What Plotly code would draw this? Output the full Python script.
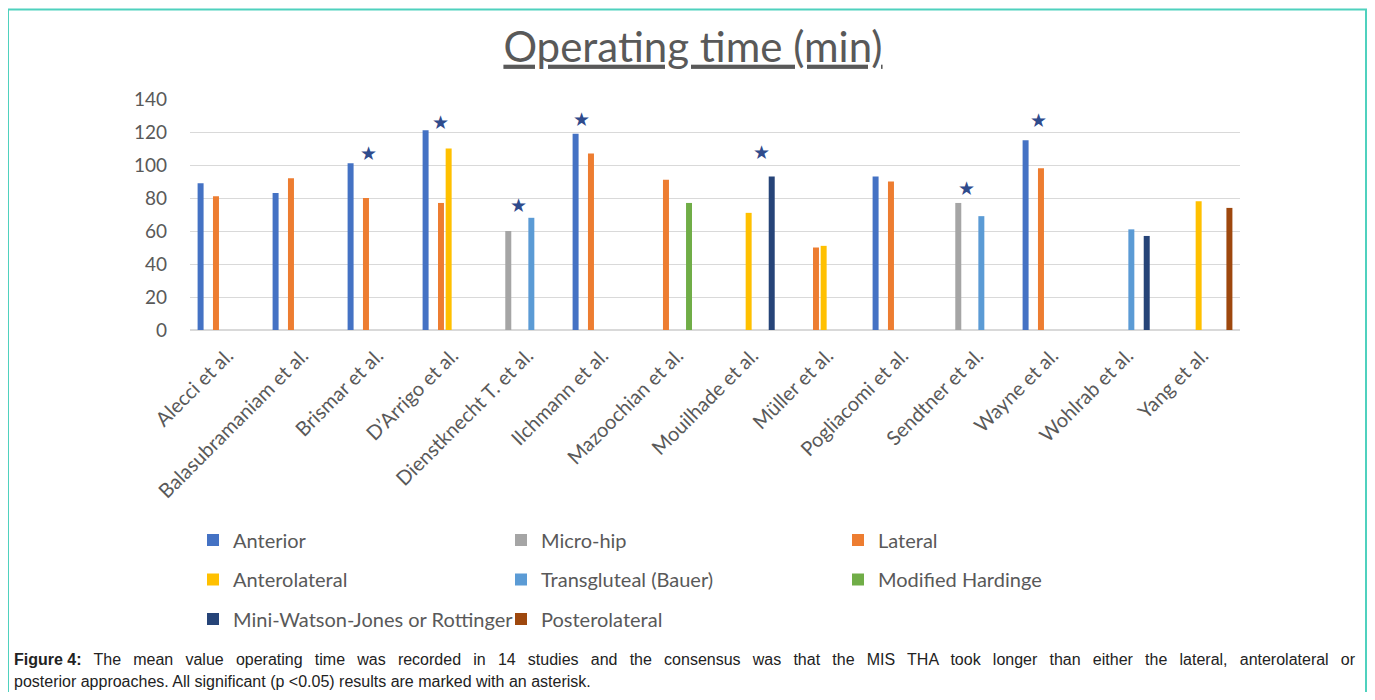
import plotly.graph_objects as go

studies = ["Alecci et al.", "Balasubramaniam et al.", "Brismar et al.", "D\u2019Arrigo et al.",
           "Dienstknecht T. et al.", "Ilchmann et al.", "Mazoochian et al.", "Mouilhade et al.",
           "M\u00fcller et al.", "Pogliacomi et al.", "Sendtner et al.", "Wayne et al.",
           "Wohlrab et al.", "Yang et al."]

anterior = [89, 83, 101, 121, None, 119, None, None, None, 93, None, 115, None, None]
micro_hip = [None, None, None, None, 60, None, None, None, None, None, 77, None, None, None]
lateral = [81, 92, 80, 77, None, 107, 91, None, 50, 90, None, 98, None, None]
anterolateral = [None, None, None, 110, None, None, None, 71, 51, None, None, None, None, 78]
transgluteal = [None, None, None, None, 68, None, None, None, None, None, 69, None, 61, None]
mod_hardinge = [None, None, None, None, None, None, 77, None, None, None, None, None, None, None]
mini_watson = [None, None, None, None, None, None, None, 93, None, None, None, None, 57, None]
posterolateral = [None, None, None, None, None, None, None, None, None, None, None, None, None, 74]

series_names = ["Anterior", "Micro-hip", "Lateral", "Anterolateral", "Transgluteal (Bauer)",
                "Modified Hardinge", "Mini-Watson-Jones or Rottinger", "Posterolateral"]
series_values = [anterior, micro_hip, lateral, anterolateral, transgluteal, mod_hardinge,
                 mini_watson, posterolateral]
colors = ["#4472C4", "#A5A5A5", "#ED7D31", "#FFC000", "#5B9BD5", "#70AD47", "#264478", "#9E480E"]

star_studies = ["Brismar et al.", "D\u2019Arrigo et al.", "Dienstknecht T. et al.", "Ilchmann et al.",
                "Mouilhade et al.", "Sendtner et al.", "Wayne et al."]
star_levels = [107, 126, 76, 128, 108, 86, 127]
star_shift = [-9, -12, -9, -21, 9, -11, -14]

# page body has an 8px margin: work in page coordinates and convert
OFF = 8
W, H = 1375 - 2 * OFF, 700 - 2 * OFF
PL, PT, PW, PH = 190, 99, 1050, 231          # plot area in page pixels
L, T = PL - OFF, PT - OFF
R, B = W - L - PW, H - T - PH

def px(x):
    return (x - PL) / PW

def py(y):
    return (PT + PH - y) / PH

FONT = "Lato, 'Open Sans', sans-serif"
GREY = "#595959"

fig = go.Figure()
legend_text_x = [235, 543, 880]
legend_rows = [540, 579.5, 619]
layout_legends = {}
for i, (name, vals, col) in enumerate(zip(series_names, series_values, colors)):
    lname = "legend" if i == 0 else f"legend{i+1}"
    fig.add_trace(go.Bar(x=studies, y=vals, name=name, marker_color=col,
                         marker_line_width=0, legend=lname, showlegend=True))
    tx = legend_text_x[i % 3]
    cy = legend_rows[i // 3]
    layout_legends[lname] = dict(x=px(tx - 42), y=py(cy), xanchor="left", yanchor="middle",
                                 xref="paper", yref="paper", orientation="v", visible=True,
                                 font=dict(family=FONT, size=20, color=GREY),
                                 bgcolor="rgba(0,0,0,0)", borderwidth=0)

annotations = []
for s, lv, sh in zip(star_studies, star_levels, star_shift):
    annotations.append(dict(x=s, y=lv, xref="x", yref="y", text="\u2605", showarrow=False,
                            xshift=sh, font=dict(size=19, color="#2F4B8C", family="DejaVu Sans")))

cap_font = dict(family="'Liberation Sans', Arial, sans-serif", size=16, color="#222222")
annotations.append(dict(x=px(12), y=py(659), xref="paper", yref="paper", xanchor="left",
                        yanchor="middle", showarrow=False, font=cap_font,
                        text="<b>Figure 4:</b><span style='word-spacing:7.75px'> The mean value operating time was recorded in 14 studies and the consensus was that the MIS THA took longer than either the lateral, anterolateral or</span>"))
annotations.append(dict(x=px(12), y=py(681), xref="paper", yref="paper", xanchor="left",
                        yanchor="middle", showarrow=False, font=cap_font,
                        text="posterior approaches. All significant (p <0.05) results are marked with an asterisk."))

shapes = [dict(type="rect", xref="paper", yref="paper", x0=px(8), x1=px(1366), y0=py(OFF + 1.5),
               y1=py(720), line=dict(color="#4FD1BE", width=2), fillcolor="rgba(0,0,0,0)",
               layer="below")]

fig.update_layout(
    width=W, height=H,
    margin=dict(l=L, r=R, t=T, b=B, autoexpand=False),
    paper_bgcolor="white", plot_bgcolor="white", showlegend=True,
    barmode="group", bargap=0.18, bargroupgap=0.22,
    title=dict(text="<u>Operating time (min)</u>", x=(693 - OFF) / W, y=1 - (47 - OFF) / H,
               xref="container", yref="container", xanchor="center", yanchor="middle",
               font=dict(family=FONT, size=42, color=GREY)),
    xaxis=dict(type="category", tickangle=-45, showgrid=False, showline=True,
               linecolor="#D9D9D9", linewidth=1, ticks="", ticklabelstandoff=5,
               tickfont=dict(family=FONT, size=20, color=GREY)),
    yaxis=dict(range=[0, 140], dtick=20, showgrid=True, gridcolor="#D9D9D9", gridwidth=1,
               zeroline=True, zerolinecolor="#D9D9D9", showline=False, ticks="",
               ticklabelstandoff=22, tickfont=dict(family=FONT, size=19, color=GREY)),
    annotations=annotations, shapes=shapes,
    **layout_legends,
)

fig.write_html("out.html")
